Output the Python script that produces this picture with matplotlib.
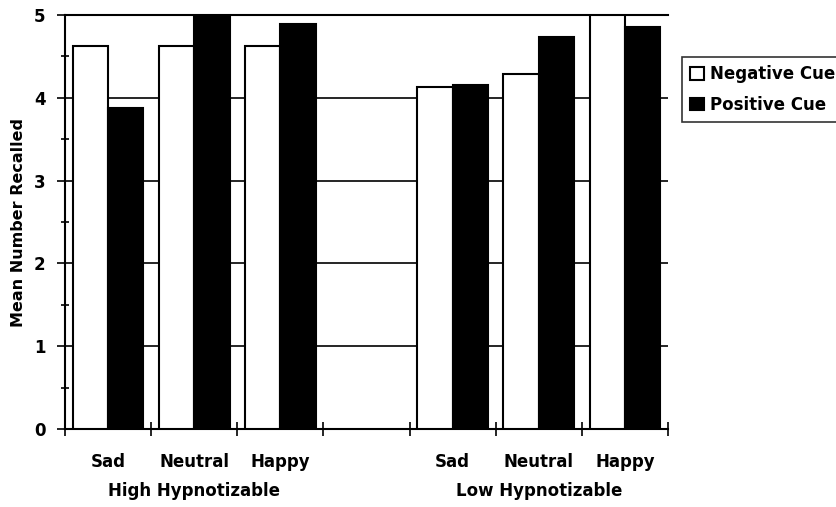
import numpy as np
import matplotlib.pyplot as plt
from matplotlib.ticker import MultipleLocator
import matplotlib.transforms as mtransforms

plt.rcParams['font.family'] = ['DejaVu Sans']
plt.rcParams['font.weight'] = 'bold'

emotions = ["Sad", "Neutral", "Happy", "Sad", "Neutral", "Happy"]
groups = ["High Hypnotizable", "Low Hypnotizable"]
slots = [0, 1, 2, 4, 5, 6]  # slot 3 is the empty gap between groups
negative_cue = [4.63, 4.63, 4.63, 4.13, 4.29, 5.0]
positive_cue = [3.88, 5.0, 4.89, 4.15, 4.73, 4.86]

fig = plt.figure(figsize=(8.37, 5.07), dpi=100)
ax = fig.add_axes([0.0777, 0.1538, 0.7203, 0.8166])

x = np.array(slots)
w = 0.41
ax.bar(x - w / 2, negative_cue, w, color="white", edgecolor="black", linewidth=1.5,
       label="Negative Cue", zorder=3)
ax.bar(x + w / 2, positive_cue, w, color="black", edgecolor="black", linewidth=1.5,
       label="Positive Cue", zorder=3)

ax.set_xlim(-0.5, 6.5)
ax.set_ylim(0, 5)

# horizontal grid lines
for yv in [1, 2, 3, 4]:
    ax.axhline(yv, color="black", linewidth=1.2, zorder=1)

ax.spines["right"].set_visible(False)
ax.spines["top"].set_linewidth(1.5)
ax.spines["left"].set_linewidth(1.5)
ax.spines["bottom"].set_linewidth(1.5)

ax.yaxis.set_major_locator(MultipleLocator(1))
ax.yaxis.set_minor_locator(MultipleLocator(0.5))
ax.tick_params(axis="y", which="major", direction="out", length=6, width=1.2,
               pad=8, labelsize=12)
ax.tick_params(axis="y", which="minor", direction="inout", length=6, width=1.2)

ax.set_xticks(np.arange(-0.5, 7, 1))
ax.set_xticklabels([])
ax.set_xticks(x, minor=True)
ax.set_xticklabels(emotions, minor=True, fontsize=12, fontweight="bold")
ax.tick_params(axis="x", which="major", direction="inout", length=10, width=1.2)
ax.tick_params(axis="x", which="minor", length=0, pad=17)

ax.set_ylabel("Mean Number Recalled", fontsize=11.5, fontweight="bold", labelpad=6)

trans = mtransforms.blended_transform_factory(ax.transData, ax.transAxes)
ax.text(1, -0.15, groups[0], transform=trans, ha="center", va="center",
        fontsize=12, fontweight="bold")
ax.text(5, -0.15, groups[1], transform=trans, ha="center", va="center",
        fontsize=12, fontweight="bold")

leg = fig.legend(loc="upper left", bbox_to_anchor=(682 / 837, 1 - 57 / 507),
                 frameon=True, fancybox=False, edgecolor="black", fontsize=12,
                 handlelength=0.8, handleheight=0.8, handletextpad=0.4,
                 borderpad=0.5, labelspacing=0.75, borderaxespad=0)
leg.get_frame().set_linewidth(1.2)

fig.savefig("out.png", dpi=100)
